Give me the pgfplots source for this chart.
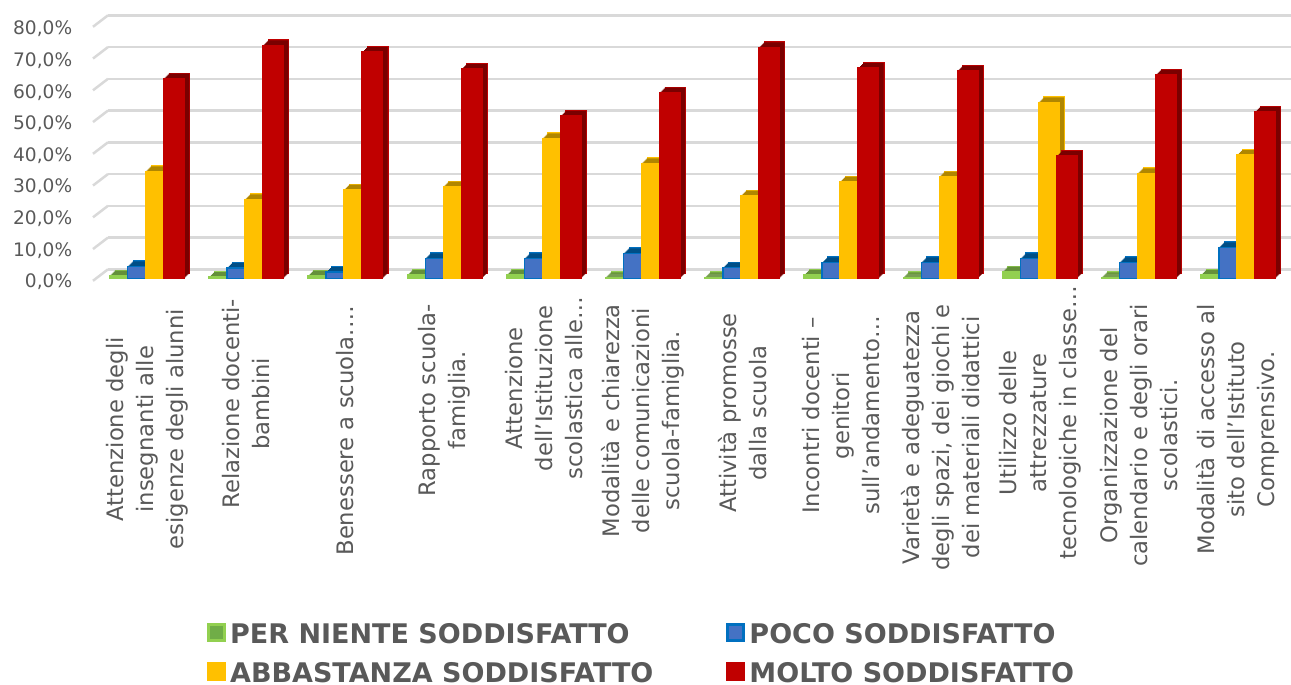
\documentclass[border=0pt]{standalone}
\usepackage{fontspec}
\setmainfont{DejaVu Sans}
\usepackage{pgfplots}
\usepackage{pgfplotstable}
\pgfplotsset{compat=1.18}
\definecolor{gridc}{HTML}{D9D9D9}
\definecolor{txt}{HTML}{595959}
\definecolor{gr}{HTML}{92D050}
\definecolor{grside}{HTML}{64903A}
\definecolor{grin}{HTML}{70AD47}
\definecolor{bl}{HTML}{0070C0}
\definecolor{blside}{HTML}{004E86}
\definecolor{blin}{HTML}{4472C4}
\definecolor{ye}{HTML}{FFC000}
\definecolor{yeside}{HTML}{B08600}
\definecolor{re}{HTML}{C00000}
\definecolor{reside}{HTML}{7A0000}
\pgfplotstableread{
x niente poco abbastanza molto
0  1.0 3.9 34.0 63.3
1  0.5 3.4 25.1 73.8
2  1.0 2.1 28.2 71.7
3  1.2 6.4 29.1 66.3
4  1.2 6.4 44.4 51.5
5  0.4 8.0 36.5 58.9
6  0.4 3.5 26.3 73.2
7  1.2 5.2 30.7 66.6
8  0.4 5.2 32.3 65.8
9  2.2 6.4 55.8 38.8
10 0.4 5.2 33.3 64.5
11 1.2 9.9 39.1 52.8
}\data
\newcommand\threeD[6]{%
  \addplot[forget plot,draw=#3,line width=1.2pt,fill=#3,bar shift=#2pt,xshift=5.4pt,yshift=5.4pt] table[x=x,y=#1]{\data};
  \pgfplotsinvokeforeach{5,4,3,2,1}{%
    \addplot[forget plot,draw=none,fill=#4,bar shift=#2pt,xshift=##1pt,yshift=##1pt] table[x=x,y=#1]{\data};
  }%
  \addplot[draw=#3,line width=1.5pt,fill=#5,bar shift=#2pt,
    legend image code/.code={\draw[draw=#3,line width=3pt,fill=#6] (1.5pt,-6.5pt) rectangle (17.5pt,9.5pt);}]
    table[x=x,y=#1]{\data};
}
\begin{document}
\begin{tikzpicture}[x=1pt,y=1pt]
\useasboundingbox (0,0) rectangle (1291,685);
% back wall with its grid
\begin{axis}[name=wall,at={(108pt,415.7pt)},anchor=south west,scale only axis,
  width=1183pt,height=254pt,xmin=0,xmax=1,ymin=0,ymax=80,
  axis line style={draw=none},xtick=\empty,ytick={0,10,...,80},yticklabels={},
  major tick style={draw=none},ymajorgrids,
  grid style={gridc,line width=2.5pt},clip=false]
  \pgfplotsinvokeforeach{0,10,...,80}{\draw[gridc,line width=2.5pt] (axis cs:0,#1) -- ++(-15pt,-11.5pt);}
\end{axis}
% bars
\begin{axis}[at={(97.4pt,406.3pt)},anchor=south west,scale only axis,
  width=1190.4pt,height=252.8pt,xmin=-0.5,xmax=11.5,ymin=0,ymax=80,
  clip=false,axis line style={draw=none},major tick style={draw=none},
  ybar,bar width=20.5pt,
  ytick={0,10,...,80},xtick={0,...,11},
  /pgf/number format/.cd,use comma,fixed,fixed zerofill,precision=1,assume math mode=true,
  /pgfplots/.cd,
  yticklabel={\pgfmathprintnumber{\tick}\%},
  yticklabel style={anchor=east,inner sep=0pt,xshift=-25pt,yshift=-3.2pt,text=txt,font=\fontsize{18.6}{22}\selectfont},
  xticklabels={
    {Attenzione degli\\insegnanti alle\\esigenze degli alunni},
    {Relazione docenti-\\bambini},
    {Benessere a scuola.…},
    {Rapporto scuola-\\famiglia.},
    {Attenzione\\dell’Istituzione\\scolastica alle…},
    {Modalità e chiarezza\\delle comunicazioni\\scuola-famiglia.},
    {Attività promosse\\dalla scuola},
    {Incontri docenti –\\genitori\\sull’andamento…},
    {Varietà e adeguatezza\\degli spazi, dei giochi e\\dei materiali didattici},
    {Utilizzo delle\\attrezzature\\tecnologiche in classe…},
    {Organizzazione del\\calendario e degli orari\\scolastici.},
    {Modalità di accesso al\\sito dell’Istituto\\Comprensivo.}},
  xticklabel style={rotate=90,anchor=east,align=center,inner sep=0pt,text=txt,
    xshift={{26,16,23,21,14,21,30,33,21,3,21,21}[\ticknum]*(-1pt)},
    font=\fontsize{22.7}{30}\selectfont},
  legend columns=2,
  legend style={at={(axis description cs:0.092,-1.361)},anchor=north west,draw=none,fill=none,
    inner sep=0pt,font=\fontsize{27}{40}\selectfont\bfseries,text=txt,
    row sep=17.5pt,
    nodes={inner sep=0pt,anchor=west},
    /tikz/every even column/.append style={column sep=73pt},
    /tikz/every odd column/.append style={column sep=4pt}},
  legend cell align=left,
  legend entries={PER NIENTE SODDISFATTO,POCO SODDISFATTO,ABBASTANZA SODDISFATTO,MOLTO SODDISFATTO},
]
\threeD{niente}{-27}{gr}{grside}{gr}{grin}
\threeD{poco}{-9}{bl}{blside}{blin}{blin}
\threeD{abbastanza}{9}{ye}{yeside}{ye}{ye}
\threeD{molto}{27}{re}{reside}{re}{re}
\end{axis}
\end{tikzpicture}
\end{document}
